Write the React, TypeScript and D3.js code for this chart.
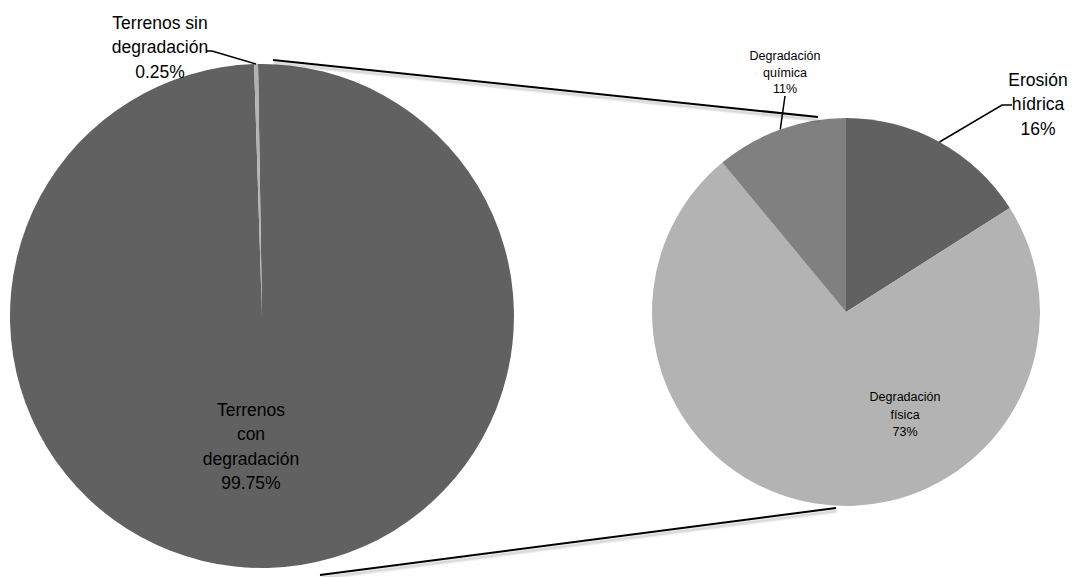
import React, { useEffect } from 'react'
import * as d3 from 'd3'

const mainLabels = [['Terrenos', 'con', 'degradación', '99.75%'], ['Terrenos sin', 'degradación', '0.25%']]
const mainValues = [99.75, 0.25]
const subLabels = [['Erosión', 'hídrica', '16%'], ['Degradación', 'física', '73%'], ['Degradación', 'química', '11%']]
const subValues = [16, 73, 11]

const mainColors = ['#616161', '#b3b3b3']
const subColors = ['#616161', '#b3b3b3', '#808080']

const W = 1089
const H = 577
const FONT = 'Liberation Sans, Arial, sans-serif'

export default function App() {
  useEffect(() => {
    document.body.style.margin = '0'
  }, [])

  // big pie
  const c1 = { x: 262, y: 316, r: 252 }
  const tiny = (mainValues[1] / d3.sum(mainValues)) * 2 * Math.PI
  const pie1 = d3.pie<number>().sort(null).startAngle(0).endAngle(2 * Math.PI)
  const arcs1 = pie1(mainValues).map((a) => ({ ...a, startAngle: a.startAngle - tiny, endAngle: a.endAngle - tiny }))
  const arc1 = d3.arc<any>().innerRadius(0).outerRadius(c1.r)

  // small pie
  const c2 = { x: 846, y: 312, r: 194 }
  const pie2 = d3.pie<number>().sort(null)
  const arcs2 = pie2(subValues)
  const arc2 = d3.arc<any>().innerRadius(0).outerRadius(c2.r)
  const edge2 = d3.arc<any>().innerRadius(c2.r).outerRadius(c2.r)

  const edge1 = d3.arc<any>().innerRadius(c1.r).outerRadius(c1.r)

  // leader line anchors
  const tinyEdge = edge1.centroid(arcs1[1])
  const eroEdge = edge2.centroid(arcs2[0])
  const quiEdge = edge2.centroid(arcs2[2])

  const label = (lines: string[], x: number, y: number, size: number, lh: number, key: string) => (
    <text key={key} x={x} y={y} textAnchor="middle" fontFamily={FONT} fontSize={size} fill="#000">
      {lines.map((l, i) => (
        <tspan key={i} x={x} dy={i === 0 ? 0 : lh}>
          {l}
        </tspan>
      ))}
    </text>
  )

  // connector lines between the two pies
  const topA = [c1.x + 11, c1.y - c1.r - 4]
  const topB = [c2.x - 28, c2.y - c2.r - 1]
  const botA = [c1.x + 58, c1.y + c1.r + 7]
  const botB = [c2.x - 10, c2.y + c2.r + 2]

  return (
    <svg width={W} height={H} style={{ display: 'block', background: '#fff' }}>
      <defs>
        <filter id="sh" x="-5%" y="-50%" width="110%" height="300%">
          <feGaussianBlur in="SourceAlpha" stdDeviation="1.2" />
          <feOffset dx="1" dy="3" result="b" />
          <feComponentTransfer>
            <feFuncA type="linear" slope="0.25" />
          </feComponentTransfer>
          <feMerge>
            <feMergeNode />
            <feMergeNode in="SourceGraphic" />
          </feMerge>
        </filter>
      </defs>
      <g transform={`translate(${c1.x},${c1.y})`}>
        {arcs1.map((a, i) => (
          <path key={i} d={arc1(a) as string} fill={mainColors[i]} />
        ))}
      </g>
      <g transform={`translate(${c2.x},${c2.y})`}>
        {arcs2.map((a, i) => (
          <path key={i} d={arc2(a) as string} fill={subColors[i]} />
        ))}
      </g>

      <line x1={topA[0]} y1={topA[1]} x2={topB[0]} y2={topB[1]} stroke="#000" strokeWidth={2} filter="url(#sh)" />
      <line x1={botA[0]} y1={botA[1]} x2={botB[0]} y2={botB[1]} stroke="#000" strokeWidth={2} filter="url(#sh)" />

      {/* leader lines */}
      <polyline
        points={`${c1.x + tinyEdge[0]},${c1.y + tinyEdge[1]} ${c1.x - 50},${c1.y - c1.r - 13} ${c1.x - 56},${c1.y - c1.r - 13}`}
        fill="none"
        stroke="#000"
        strokeWidth={1.5}
      />
      <polyline
        points={`${c2.x + eroEdge[0]},${c2.y + eroEdge[1]} ${c2.x + 156},${c2.y - 207} ${c2.x + 166},${c2.y - 207}`}
        fill="none"
        stroke="#000"
        strokeWidth={1.5}
      />
      <polyline
        points={`${c2.x + quiEdge[0]},${c2.y + quiEdge[1]} ${c2.x - 61},${c2.y - 216}`}
        fill="none"
        stroke="#000"
        strokeWidth={1.5}
      />

      {/* labels */}
      {label(mainLabels[0], c1.x - 11, c1.y + 100, 17.5, 24.3, 'm0')}
      {label(mainLabels[1], c1.x - 102, c1.y - c1.r - 35, 17.5, 24.3, 's1m')}
      {label(subLabels[0], c2.x + 192, c2.y - 226, 17.5, 24.3, 's0')}
      {label(subLabels[1], c2.x + 59, c2.y + 89, 12.5, 17.5, 's1')}
      {label(subLabels[2], c2.x - 61, c2.y - 252, 12.5, 16.5, 's2')}
    </svg>
  )
}
